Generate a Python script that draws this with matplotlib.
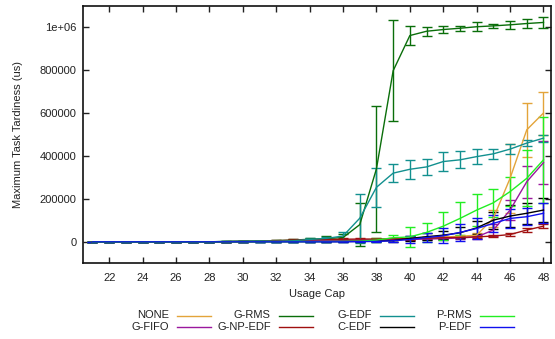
import matplotlib
matplotlib.use("Agg")
import matplotlib.pyplot as plt
from matplotlib.lines import Line2D
import numpy as np

plt.rcParams['font.family'] = ['Liberation Sans', 'DejaVu Sans']

usage_cap = list(range(21, 49))

series_names = ["NONE", "G-FIFO", "G-RMS", "G-NP-EDF", "G-EDF", "C-EDF", "P-RMS", "P-EDF"]
series_colors = ["#e3a43a", "#9a189e", "#0a6e0a", "#a01010", "#12908f", "#000000", "#22ee22", "#1010ee"]

#            21 22 23 24 25 26 27 28 29    30    31    32    33    34     35     36     37      38      39      40      41      42      43      44       45       46       47       48
none_v   = [0, 0, 0, 0, 0, 0, 0, 0, 1000, 1500, 2000, 3000, 3500, 4000,  4500,  5000,  6000,   8000,   10000,  14000,  18000,  22000,  26000,  31000,  110000,  296000,  522000,  600000]
none_e   = [0, 0, 0, 0, 0, 0, 0, 0, 0,    0,    0,    0,    0,    0,     0,     0,     2000,   3000,   3000,   4000,   5000,   6000,   8000,   10000,  40000,   160000,  125000,  100000]
gfifo_v  = [0, 0, 0, 0, 0, 0, 0, 0, 1000, 1500, 2000, 3000, 4000, 5000,  6000,  7000,  8000,   9000,   10000,  11000,  13000,  15000,  18000,  23000,  55000,   148000,  280000,  369000]
gfifo_e  = [0, 0, 0, 0, 0, 0, 0, 0, 0,    0,    0,    0,    0,    0,     0,     0,     2000,   2000,   3000,   3000,   4000,   5000,   6000,   8000,   30000,   47000,   75000,   100000]
grms_v   = [0, 0, 0, 0, 0, 0, 0, 0, 2000, 3000, 4000, 6000, 8000, 12000, 15000, 20000, 80000,  340000, 797000, 961000, 981000, 989000, 995000, 1002000, 1006000, 1011000, 1017000, 1022000]
grms_e   = [0, 0, 0, 0, 0, 0, 0, 0, 1000, 2000, 2000, 3000, 4000, 5000,  12000, 15000, 100000, 295000, 236000, 45000,  20000,  17000,  12000,  22000,   8000,    20000,   19000,   27000]
gnp_v    = [0, 0, 0, 0, 0, 0, 0, 0, 1000, 2000, 3000, 5000, 8000, 10000, 11000, 12000, 13000,  13000,  14000,  15000,  17000,  19000,  21000,  23000,  27000,   34000,   55000,   73000]
gnp_e    = [0, 0, 0, 0, 0, 0, 0, 0, 0,    0,    1000, 2000, 3000, 3000,  3000,  4000,  4000,   4000,   4000,   5000,   5000,   5000,   5000,   5000,   5000,    5000,    9000,    8000]
gedf_v   = [0, 0, 0, 0, 0, 0, 0, 0, 2000, 3000, 4000, 3000, 5000, 11000, 16000, 27000, 110000, 254000, 320000, 338000, 349000, 374000, 382000, 397000, 410000,  432000,  460000,  483000]
gedf_e   = [0, 0, 0, 0, 0, 0, 0, 0, 1000, 1000, 2000, 2000, 4000, 6000,  8000,  20000, 115000, 91000,  43000,  44000,  38000,  46000,  40000,  35000,  22000,   25000,   14000,   17000]
cedf_v   = [0, 0, 0, 0, 0, 0, 0, 0, 0,    0,    0,    500,  800,  1000,  1000,  1500,  2000,   3000,   6000,   16000,  24000,  31000,  42000,  65000,  101000,  120000,  133000,  148000]
cedf_e   = [0, 0, 0, 0, 0, 0, 0, 0, 0,    0,    0,    0,    0,    0,     0,     1000,  2000,   3000,   6000,   10000,  15000,  20000,  25000,  30000,  40000,   50000,   50000,   55000]
prms_v   = [0, 0, 0, 0, 0, 0, 0, 0, 0,    0,    0,    500,  800,  1000,  1500,  2000,  3000,   8000,   19000,  23000,  44000,  73000,  109000, 148000, 182000,  234000,  296000,  382000]
prms_e   = [0, 0, 0, 0, 0, 0, 0, 0, 0,    0,    0,    0,    0,    0,     0,     1000,  2000,   8000,   12000,  47000,  44000,  66000,  76000,  76000,  66000,   66000,   130000,  200000]
pedf_v   = [0, 0, 0, 0, 0, 0, 0, 0, 0,    0,    0,    0,    0,    0,     0,     0,     1000,   2000,   5000,   11000,  20000,  28000,  44000,  62000,  86000,   109000,  117000,  133000]
pedf_e   = [0, 0, 0, 0, 0, 0, 0, 0, 0,    0,    0,    0,    0,    0,     0,     0,     2000,   4000,   8000,   15000,  20000,  35000,  40000,  47000,  40000,   43000,   40000,   47000]

values = [none_v, gfifo_v, grms_v, gnp_v, gedf_v, cedf_v, prms_v, pedf_v]
errors = [none_e, gfifo_e, grms_e, gnp_e, gedf_e, cedf_e, prms_e, pedf_e]

x_ticks = list(range(22, 49, 2))
y_ticks = [0, 200000, 400000, 600000, 800000, 1000000]
y_tick_labels = ["0", "200000", "400000", "600000", "800000", "1e+06"]

fig = plt.figure(figsize=(5.55, 3.39), dpi=100)
ax = fig.add_axes([83.3 / 555, 1 - 263.3 / 339, (551 - 83.3) / 555, (263.3 - 5.7) / 339])

handles = {}
for name, col, v, e in zip(series_names, series_colors, values, errors):
    ax.errorbar(usage_cap, v, yerr=e, color=col, lw=1.0, elinewidth=1.0,
                capsize=3.5, capthick=1.0)
    handles[name] = col

ax.set_xlim(20.45, 48.45)
ax.set_ylim(-100000, 1100000)
ax.set_xticks(x_ticks)
ax.set_yticks(y_ticks)
ax.set_yticklabels(y_tick_labels)
ax.tick_params(direction='in', length=4, width=1, top=True, right=True,
               labelsize=8, pad=5, colors='#222222', labelcolor='#222222')
ax.tick_params(axis='x', pad=7)
for s in ax.spines.values():
    s.set_linewidth(1.2)
    s.set_color('#111111')

ax.set_xlabel("Usage Cap", fontsize=8, labelpad=4, color='#222222')
ax.set_ylabel("Maximum Task Tardiness (us)", fontsize=8, labelpad=12, color='#222222')

# Legend (gnuplot style: label then sample), 4 columns x 2 rows
legend_rows = [["NONE", "G-RMS", "G-EDF", "P-RMS"],
               ["G-FIFO", "G-NP-EDF", "C-EDF", "P-EDF"]]
text_right = [169, 270.7, 371.7, 471.7]
row_y = [315.5, 326.5]
W, H = 555.0, 339.0
for r, row in enumerate(legend_rows):
    for c, name in enumerate(row):
        yy = 1 - row_y[r] / H
        fig.text(text_right[c] / W, yy, name, ha='right', va='center', fontsize=8, color='#222222')
        x0 = (text_right[c] + 8) / W
        x1 = (text_right[c] + 42) / W
        fig.add_artist(Line2D([x0, x1], [yy, yy], color=handles[name], lw=1.0,
                              transform=fig.transFigure))

fig.savefig("out.png", dpi=100)
